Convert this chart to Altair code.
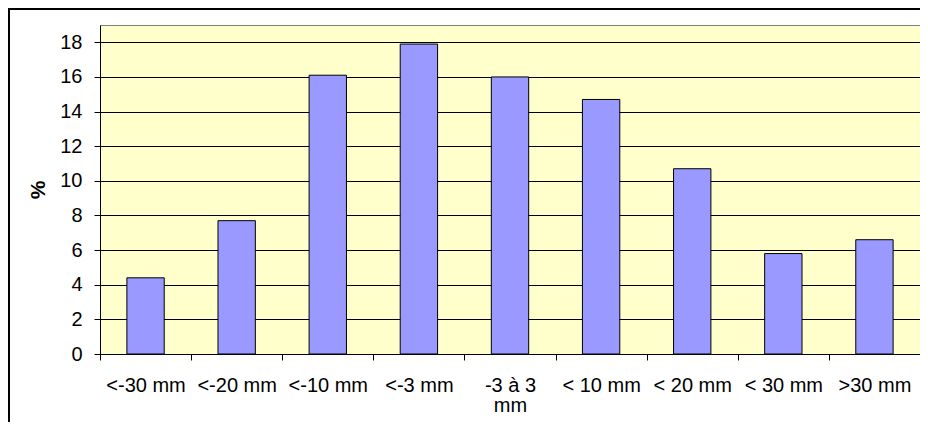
import altair as alt
import pandas as pd

categories = ["<-30 mm", "<-20 mm", "<-10 mm", "<-3 mm", "-3 à 3 mm",
              "< 10 mm", "< 20 mm", "< 30 mm", ">30 mm"]
percent = [4.4, 7.7, 16.1, 17.9, 16.0, 14.7, 10.7, 5.8, 6.6]
y_ticks = [0, 2, 4, 6, 8, 10, 12, 14, 16, 18]

df = pd.DataFrame({"cat": categories, "pct": percent})
FONT = "Liberation Sans"

x = alt.X(
    "cat:N", sort=categories,
    scale=alt.Scale(paddingInner=0, paddingOuter=0),
    axis=alt.Axis(
        title=None, labelAngle=0, tickBand="extent", ticks=True, tickSize=6,
        tickColor="black", tickWidth=1, domainColor="black", domainWidth=1,
        labelFont=FONT, labelFontSize=20, labelColor="black", labelPadding=15,
        labelLineHeight=20, grid=False,
        labelExpr="datum.label == '-3 à 3 mm' ? ['-3 à 3', 'mm'] : datum.label",
    ),
)
y = alt.Y(
    "pct:Q",
    scale=alt.Scale(domain=[0, 19], nice=False),
    axis=alt.Axis(
        values=y_ticks, grid=True, gridColor="black", gridWidth=1, gridOpacity=1,
        domainColor="black", domainWidth=1, tickColor="black", tickSize=6,
        labelFont=FONT, labelFontSize=20, labelColor="black", labelPadding=12,
        title="%", titleFont=FONT, titleFontSize=21, titleFontWeight="bold",
        titleColor="black", titleAngle=270, titleX=-62, titleY=164.5,
        titleAlign="center", titleBaseline="middle",
    ),
)

bars = alt.Chart(df).mark_bar(
    color="#9999FF", stroke="black", strokeWidth=1,
    width=alt.RelativeBandSize(0.41),
).encode(x=x, y=y)

frame_df = pd.DataFrame({"k": [0]})
top_rule = alt.Chart(frame_df).mark_rule(color="black", strokeWidth=3).encode(
    x=alt.value(-92), x2=alt.value(820), y=alt.value(-16.5)
)
left_rule = alt.Chart(frame_df).mark_rule(color="black", strokeWidth=3).encode(
    x=alt.value(-91.5), y=alt.value(-17), y2=alt.value(397)
)

chart = alt.layer(bars, top_rule, left_rule).properties(
    width=820, height=329,
    autosize=alt.AutoSizeParams(type="none"),
    padding={"left": 92, "top": 17, "right": 0, "bottom": 68},
    background="white",
).configure_view(
    fill="#FFFFCC", stroke="#808080", strokeWidth=1
)

chart.save("out.html", embed_options={"renderer": "svg", "actions": False})
